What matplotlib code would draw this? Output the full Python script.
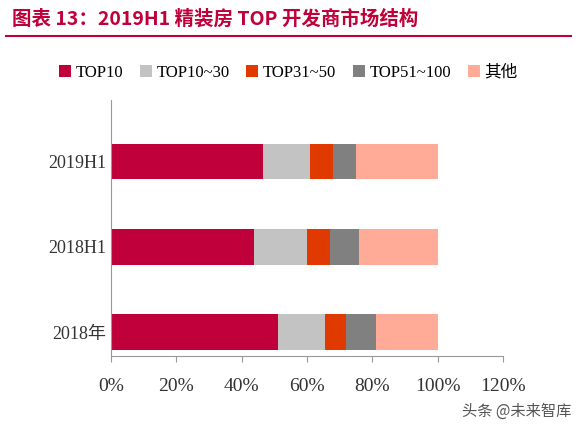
import matplotlib
matplotlib.use("Agg")
import matplotlib.pyplot as plt
import numpy as np

plt.rcParams['font.family'] = ['Liberation Serif', 'Noto Sans CJK SC']

categories = ["2018年", "2018H1", "2019H1"]
series_names = ["TOP10", "TOP10~30", "TOP31~50", "TOP51~100", "其他"]
top10 = [51.0, 43.7, 46.5]
top10_30 = [14.5, 16.3, 14.5]
top31_50 = [6.5, 7.0, 7.0]
top51_100 = [9.0, 9.0, 7.0]
other = [19.0, 24.0, 25.0]
colors = ["#C0003A", "#C3C3C3", "#E03A00", "#808080", "#FFAB98"]

fig = plt.figure(figsize=(5.77, 4.28), dpi=100)
ax = fig.add_axes([0.192, 0.168, 0.68, 0.598])
y = np.arange(len(categories))
left = np.zeros(len(categories))
for vals, name, c in zip([top10, top10_30, top31_50, top51_100, other], series_names, colors):
    ax.barh(y, vals, left=left, height=0.42, color=c, label=name)
    left += np.array(vals)

ax.set_xlim(0, 120)
ax.set_ylim(-0.28, 2.72)
ax.set_xticks(range(0, 121, 20))
ax.set_xticklabels([f"{v}%" for v in range(0, 121, 20)], fontsize=14, color="#333333")
ax.set_yticks(y)
ax.set_yticklabels(categories, fontsize=13, color="#333333")
for s in ["top", "right"]:
    ax.spines[s].set_visible(False)
ax.spines["left"].set_color("#999999")
ax.spines["bottom"].set_color("#999999")
ax.tick_params(axis="y", length=0)
ax.tick_params(axis="x", length=4, color="#999999", pad=12)

fig.legend(loc="center", bbox_to_anchor=(0.5, 0.83), ncol=5, frameon=False,
           fontsize=12, handlelength=0.7, handleheight=0.7, columnspacing=1.0, handletextpad=0.3)

fig.text(0.02, 0.955, "图表 13：2019H1 精装房 TOP 开发商市场结构", fontsize=14, color="#C0003A",
         fontweight="bold", style="italic", va="center", family=['Noto Sans CJK SC'])
fig.add_artist(plt.Line2D([0.01, 0.99], [0.915, 0.915], color="#C0003A", lw=1.5))
fig.text(0.8, 0.04, "头条 @未来智库", fontsize=11, color="#555555", va="center", family=['Noto Sans CJK SC'])

fig.savefig("out.png", dpi=100)
